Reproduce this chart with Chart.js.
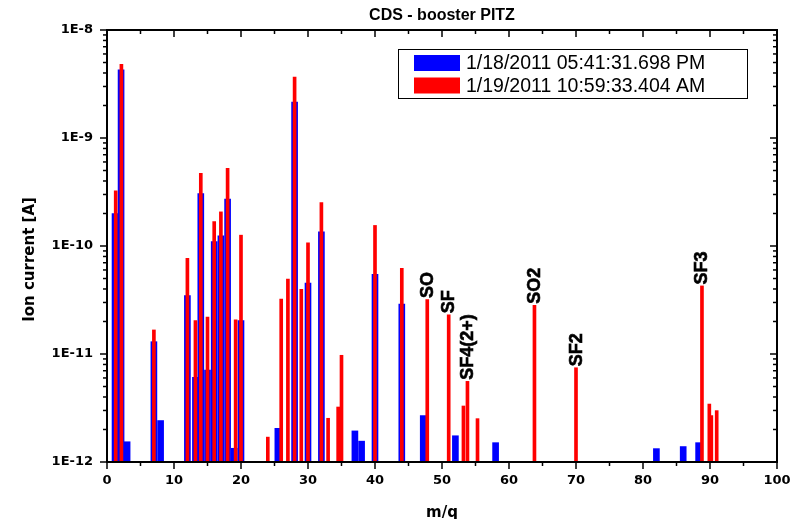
<!DOCTYPE html>
<html>
<head>
<meta charset="utf-8">
<script src="https://cdn.jsdelivr.net/npm/chart.js@4.4.1/dist/chart.umd.min.js"></script>
<style>
html,body{margin:0;padding:0;background:#fff;}
#wrap{width:794px;height:519px;position:relative;}
</style>
</head>
<body>
<div id="wrap"><canvas id="c" width="794" height="519"></canvas></div>
<script>
// ---- data ----
const seriesLabels = ['1/18/2011 05:41:31.698 PM', '1/19/2011 10:59:33.404 AM'];
const blueMass = [1.2, 2.1, 3, 7, 8, 12, 13.2, 14, 15, 16, 17, 18, 19, 20, 25.5, 28, 30, 32, 37, 38, 40, 44, 47.2, 52, 58, 82, 86, 88.3];
const blueCurrent = [2.0e-10, 4.27e-9, 1.54e-12, 1.30e-11, 2.42e-12, 3.47e-11, 6.08e-12, 3.05e-10, 7.1e-12, 1.10e-10, 1.24e-10, 2.72e-10, 1.34e-12, 2.04e-11, 2.05e-12, 2.15e-9, 4.54e-11, 1.35e-10, 1.94e-12, 1.56e-12, 5.47e-11, 2.90e-11, 2.69e-12, 1.75e-12, 1.51e-12, 1.33e-12, 1.39e-12, 1.51e-12];
const redMass = [1.3, 2.15, 7, 12, 13.2, 14, 15, 16, 17, 18, 19.2, 20, 24, 26, 27, 28, 29, 30, 32, 33, 34.5, 35, 40, 44, 47.8, 51, 53.2, 53.8, 55.3, 63.8, 70, 88.8, 89.9, 90.2, 91];
const redCurrent = [3.25e-10, 4.81e-9, 1.67e-11, 7.69e-11, 2.04e-11, 4.71e-10, 2.2e-11, 1.68e-10, 2.07e-10, 5.24e-10, 2.07e-11, 1.26e-10, 1.70e-12, 3.23e-11, 4.94e-11, 3.67e-9, 3.97e-11, 1.07e-10, 2.53e-10, 2.54e-12, 3.23e-12, 9.73e-12, 1.55e-10, 6.21e-11, 3.19e-11, 2.31e-11, 3.30e-12, 5.58e-12, 2.52e-12, 2.82e-11, 7.46e-12, 4.27e-11, 3.44e-12, 2.69e-12, 2.99e-12];
const peakLabels = ['SO', 'SF', 'SF4(2+)', 'SO2', 'SF2', 'SF3'];
const peakMass = [47.8, 51, 53.8, 63.8, 70, 88.8];
const xTickValues = [0, 10, 20, 30, 40, 50, 60, 70, 80, 90, 100];
const xMinorTickValues = [5, 15, 25, 35, 45, 55, 65, 75, 85, 95];
const yTickValues = [1e-12, 1e-11, 1e-10, 1e-9, 1e-8];
const yTickLabels = ['1E-12', '1E-11', '1E-10', '1E-9', '1E-8'];
const titleText = 'CDS - booster PITZ';
const xTitle = 'm/q';
const yTitle = 'Ion current [A]';
const seriesColors = ['#0000ff', '#ff0000'];

const tickFont = {family: 'DejaVu Sans', weight: 'bold', size: 13};

const decorPlugin = {
  id: 'decor',
  afterDatasetsDraw(chart) {
    const ctx = chart.ctx;
    const {left, right, top, bottom} = chart.chartArea;
    const xs = chart.scales.x, ys = chart.scales.y;
    ctx.save();
    // peak labels
    const red = chart.data.datasets[1].data;
    ctx.fillStyle = '#000';
    ctx.strokeStyle = '#000';
    ctx.lineWidth = 0.6;
    ctx.font = 'bold 18px "Liberation Sans", Arial, sans-serif';
    ctx.textAlign = 'left';
    ctx.textBaseline = 'alphabetic';
    peakLabels.forEach((lab, i) => {
      const pt = red.find(p => p.x === peakMass[i]);
      const px = xs.getPixelForValue(pt.x);
      const py = ys.getPixelForValue(pt.y);
      ctx.save();
      ctx.translate(px + 5.5, py - 1.5);
      ctx.rotate(-Math.PI / 2);
      ctx.fillText(lab, 0, 0);
      ctx.strokeText(lab, 0, 0);
      ctx.restore();
    });
    // frame
    ctx.strokeStyle = '#000';
    ctx.lineWidth = 2;
    ctx.strokeRect(left, top, right - left, bottom - top);
    ctx.lineWidth = 1.5;
    const line = (x1, y1, x2, y2) => { ctx.beginPath(); ctx.moveTo(x1, y1); ctx.lineTo(x2, y2); ctx.stroke(); };
    xTickValues.forEach(v => { const p = xs.getPixelForValue(v); line(p, bottom, p, bottom + 7); line(p, top, p, top + 7); });
    xMinorTickValues.forEach(v => { const p = xs.getPixelForValue(v); line(p, bottom, p, bottom + 4); line(p, top, p, top + 4); });
    for (let e = -12; e <= -8; e++) {
      for (let k = 1; k <= 9; k++) {
        const v = k * Math.pow(10, e);
        if (v > ys.max * 1.0001) break;
        const p = ys.getPixelForValue(v);
        const len = k === 1 ? 7 : 4;
        line(left - len, p, left, p);
        line(right - len, p, right, p);
      }
    }
    // y axis title (centred on the page height)
    ctx.font = 'bold 15px "DejaVu Sans", sans-serif';
    ctx.textAlign = 'center';
    ctx.textBaseline = 'middle';
    ctx.save();
    ctx.translate(30, chart.height / 2);
    ctx.rotate(-Math.PI / 2);
    ctx.fillText(yTitle, 0, 0);
    ctx.restore();
    // legend
    const lx = right - 379, ly = top + 19, lw = 349, lh = 49;
    ctx.fillStyle = '#fff';
    ctx.fillRect(lx, ly, lw, lh);
    ctx.lineWidth = 1;
    ctx.strokeStyle = '#000';
    ctx.strokeRect(lx + 0.5, ly + 0.5, lw, lh);
    ctx.font = '19.5px "Liberation Sans", Arial, sans-serif';
    ctx.textAlign = 'left';
    ctx.textBaseline = 'middle';
    chart.data.datasets.forEach((ds, i) => {
      const cy = ly + 14 + i * 22.5;
      ctx.fillStyle = ds.backgroundColor;
      ctx.fillRect(lx + 16, cy - 8, 46, 16);
      ctx.fillStyle = '#000';
      ctx.fillText(ds.label, lx + 68, cy + 1);
    });
    ctx.restore();
  }
};

new Chart(document.getElementById('c'), {
  type: 'bar',
  data: {
    datasets: [
      {label: seriesLabels[0], data: blueMass.map((m, i) => ({x: m, y: blueCurrent[i]})), backgroundColor: seriesColors[0], barThickness: 6, order: 1},
      {label: seriesLabels[1], data: redMass.map((m, i) => ({x: m, y: redCurrent[i]})), backgroundColor: seriesColors[1], barThickness: 3, order: 0}
    ]
  },
  options: {
    responsive: false,
    animation: false,
    devicePixelRatio: 1,
    layout: {padding: {left: 0, right: 17, top: 0, bottom: 0}},
    datasets: {bar: {grouped: false}},
    plugins: {
      legend: {display: false},
      tooltip: {enabled: false},
      title: {display: true, text: titleText, fullSize: false, color: '#000',
        font: {family: 'Liberation Sans', weight: 'bold', size: 16, lineHeight: 1.2},
        padding: {top: 6, bottom: 4.8}}
    },
    scales: {
      x: {
        type: 'linear', min: 0, max: 100, offset: false,
        grid: {display: false, drawTicks: false},
        border: {display: false},
        afterBuildTicks: s => { s.ticks = xTickValues.map(v => ({value: v})); },
        ticks: {padding: 11, font: tickFont, color: '#000', maxRotation: 0, autoSkip: false},
        title: {display: true, text: xTitle, color: '#000', font: {family: 'DejaVu Sans', weight: 'bold', size: 15, lineHeight: 0.9}, padding: {top: 0, bottom: -1}},
        afterFit: s => { s.height = 57; s.paddingLeft = 0; s.paddingRight = 0; }
      },
      y: {
        type: 'logarithmic', min: 1e-12, max: 1e-8,
        grid: {display: false, drawTicks: false},
        border: {display: false},
        afterBuildTicks: s => { s.ticks = yTickValues.map(v => ({value: v})); },
        ticks: {padding: 14, font: tickFont, color: '#000', autoSkip: false,
          callback: (v) => { const i = yTickValues.findIndex(t => Math.abs(t - v) / t < 1e-6); return i >= 0 ? yTickLabels[i] : ''; }},
        afterFit: s => { s.width = 107; s.paddingTop = 0; s.paddingBottom = 0; }
      }
    }
  },
  plugins: [decorPlugin]
});
</script>
</body>
</html>
